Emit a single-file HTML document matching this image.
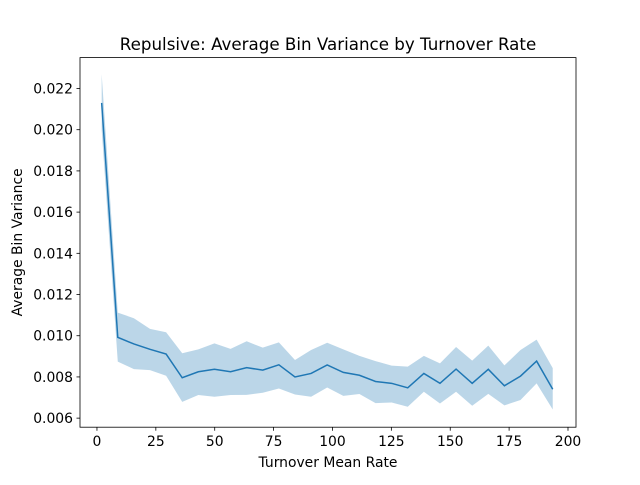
<!DOCTYPE html>
<html><head><meta charset="utf-8"><style>body{margin:0;background:#fff}svg text{font-family:"DejaVu Sans","Liberation Sans",sans-serif;fill:#000}</style></head>
<body>
<svg id="chart" width="640" height="480">
<rect width="640" height="480" fill="#fff"/>
<g id="plot"></g>
</svg>
<script>
const meanVals=[0.0213,0.00992,0.0096,0.00934,0.00911,0.00796,0.00825,0.00837,0.00825,0.00845,0.00833,0.00859,0.00800,0.00817,0.00858,0.00822,0.00808,0.00778,0.00769,0.00747,0.00817,0.00769,0.00838,0.00769,0.00837,0.00757,0.00804,0.00877,0.00740];
const upperVals=[0.0227,0.01112,0.01085,0.01033,0.01017,0.00915,0.00934,0.00963,0.00936,0.00973,0.00942,0.00968,0.00882,0.00931,0.00966,0.00934,0.00902,0.00877,0.00855,0.00850,0.00902,0.00866,0.00945,0.00879,0.00952,0.00856,0.00931,0.00981,0.00843];
const lowerVals=[0.0200,0.00874,0.00838,0.00833,0.00806,0.00679,0.00712,0.00704,0.00712,0.00713,0.00723,0.00744,0.00715,0.00704,0.00749,0.00708,0.00717,0.00673,0.00676,0.00655,0.00728,0.00671,0.00728,0.00660,0.00718,0.00662,0.00688,0.00769,0.00642];
const xStart=2, xStep=6.84;
const xTicks=[0,25,50,75,100,125,150,175,200];
const yTicks=[0.006,0.008,0.010,0.012,0.014,0.016,0.018,0.020,0.022];
const L=80,R=576,T=57.6,B=427.2;
const xMin=-7.2,xMax=203.4,yMin=0.00556,yMax=0.0235;
const X=v=>L+(v-xMin)/(xMax-xMin)*(R-L);
const Y=v=>B-(v-yMin)/(yMax-yMin)*(B-T);
const NS="http://www.w3.org/2000/svg";
const g=document.getElementById('plot');
function mk(t,a){const e=document.createElementNS(NS,t);for(const k in a)e.setAttribute(k,a[k]);g.appendChild(e);return e;}
const xs=meanVals.map((_,i)=>xStart+i*xStep);
let band=xs.map((x,i)=>X(x)+','+Y(upperVals[i])).join(' ')+' '+xs.slice().reverse().map((x,j)=>{const i=xs.length-1-j;return X(x)+','+Y(lowerVals[i]);}).join(' ');
const b=mk('polygon',{points:band,fill:'#1f77b4','fill-opacity':0.3});


const ln=mk('polyline',{points:xs.map((x,i)=>X(x)+','+Y(meanVals[i])).join(' '),fill:'none',stroke:'#1f77b4','stroke-width':1.5});


const fr=mk('rect',{x:L,y:T,width:R-L,height:B-T,fill:'none',stroke:'#000','stroke-width':0.8});


xTicks.forEach(t=>{const x=X(t);mk('line',{x1:x,x2:x,y1:B,y2:B+3.5,stroke:'#000','stroke-width':0.8});
const tx=mk('text',{x:x,y:B+19,'font-size':13.9,'text-anchor':'middle'});tx.textContent=t;

});
yTicks.forEach(t=>{const y=Y(t);mk('line',{x1:L-3.5,x2:L,y1:y,y2:y,stroke:'#000','stroke-width':0.8});
const tx=mk('text',{x:L-7,y:y+5,'font-size':13.9,'text-anchor':'end'});tx.textContent=t.toFixed(3);

});
const tt=mk('text',{x:(L+R)/2,y:50,'font-size':16.7,'text-anchor':'middle'});tt.textContent='Repulsive: Average Bin Variance by Turnover Rate';


const xl=mk('text',{x:(L+R)/2,y:467,'font-size':13.9,'text-anchor':'middle'});xl.textContent='Turnover Mean Rate';


const yl=mk('text',{x:0,y:0,'font-size':13.9,'text-anchor':'middle',transform:'translate(22,'+((T+B)/2)+') rotate(-90)'});yl.textContent='Average Bin Variance';


</script>
</body></html>
